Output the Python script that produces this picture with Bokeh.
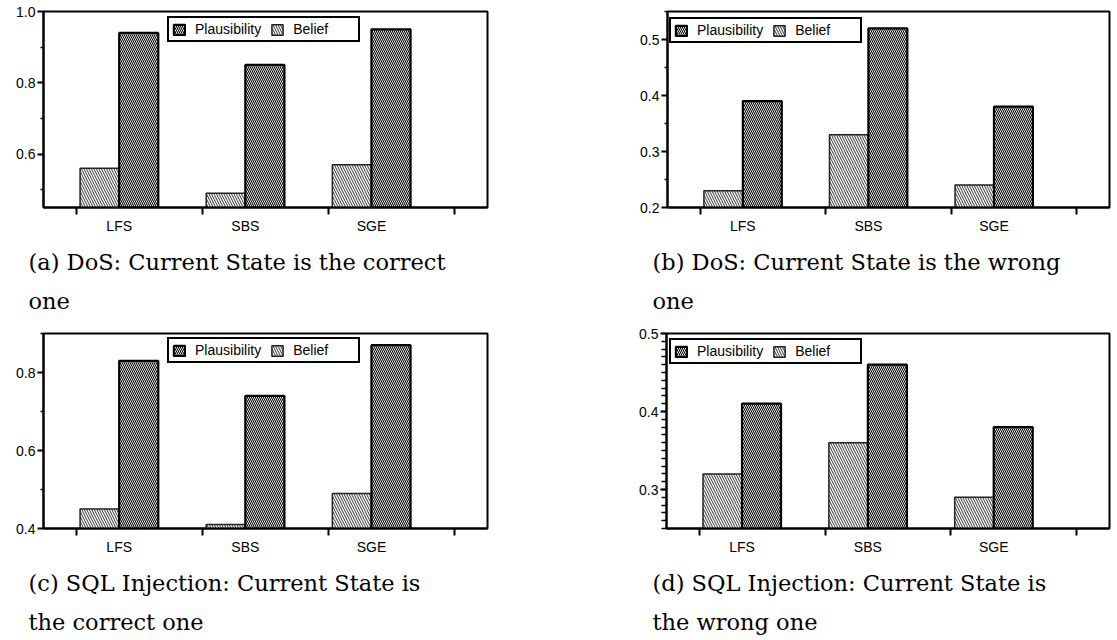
import numpy as np
from bokeh.plotting import figure
from bokeh.models import (FixedTicker, Title, Legend, LegendItem, Range1d,
                          PrintfTickFormatter, ColumnDataSource)
from bokeh.layouts import column, row
from bokeh.embed import file_html
from bokeh.resources import INLINE

# ---------------- data ----------------
categories = ["LFS", "SBS", "SGE"]

belief_a = [0.56, 0.49, 0.57]
plaus_a = [0.94, 0.85, 0.95]

belief_b = [0.23, 0.33, 0.24]
plaus_b = [0.39, 0.52, 0.38]

belief_c = [0.45, 0.41, 0.49]
plaus_c = [0.83, 0.74, 0.87]

belief_d = [0.32, 0.36, 0.29]
plaus_d = [0.41, 0.46, 0.38]

yrange_a = (0.45, 1.0)
yrange_b = (0.2, 0.55)
yrange_c = (0.4, 0.9)
yrange_d = (0.25, 0.5)

yticks_a = [0.6, 0.8, 1.0]
yminor_a = [0.5, 0.7, 0.9]
yticks_b = [0.2, 0.3, 0.4, 0.5]
yminor_b = [0.25, 0.35, 0.45, 0.55]
yticks_c = [0.4, 0.6, 0.8]
yminor_c = [0.5, 0.7, 0.9]
yticks_d = [0.3, 0.4, 0.5]
yminor_d = [round(0.25 + 0.01 * i, 2) for i in range(26)]

caption_a = ["(a) DoS: Current State is the correct", "one"]
caption_b = ["(b) DoS: Current State is the wrong", "one"]
caption_c = ["(c) SQL Injection: Current State is", "the correct one"]
caption_d = ["(d) SQL Injection: Current State is", "the wrong one"]

series_labels = ["Plausibility", "Belief"]

# ---------------- styling ----------------
SANS = "Liberation Sans"
SERIF = "DejaVu Serif"
BAR_W = 0.31
GROUP_BOUNDARY = -0.34


def make_panel(belief, plaus, yr, yt, ym, caption, width, height,
               bl, br, bt, bb, legend_xy, cap_offset, minor_len):
    p = figure(width=width, height=height, output_backend="svg",
               toolbar_location=None, title=None,
               x_range=Range1d(-0.6, 2.92), y_range=Range1d(*yr),
               min_border_left=bl, min_border_right=br,
               min_border_top=bt, min_border_bottom=bb)
    p.background_fill_color = "white"
    p.border_fill_color = "white"
    p.outline_line_color = "black"
    p.outline_line_width = 2
    p.outline_line_alpha = 1
    p.xgrid.visible = False
    p.ygrid.visible = False

    idx = np.arange(len(categories))
    src_b = ColumnDataSource(dict(x=idx - BAR_W / 2, top=belief))
    src_p = ColumnDataSource(dict(x=idx + BAR_W / 2, top=plaus))

    rb = p.vbar(x="x", top="top", bottom=yr[0], width=BAR_W, source=src_b,
                fill_color="white", line_color="#222222", line_width=1.5,
                hatch_pattern="\\", hatch_color="black", hatch_weight=0.8,
                hatch_scale=5)
    rp = p.vbar(x="x", top="top", bottom=yr[0], width=BAR_W, source=src_p,
                fill_color="black", line_color="black", line_width=2.2,
                hatch_pattern="\\", hatch_color="white", hatch_weight=0.9,
                hatch_scale=4)

    legend = Legend(items=[LegendItem(label=series_labels[0], renderers=[rp]),
                           LegendItem(label=series_labels[1], renderers=[rb])],
                    location=legend_xy, orientation="horizontal",
                    glyph_width=14, glyph_height=13, label_standoff=9,
                    spacing=9, padding=3, margin=0, label_width=62,
                    label_height=13,
                    label_text_font=SANS, label_text_font_size="14px",
                    label_text_color="black",
                    border_line_color="black", border_line_width=2,
                    border_line_alpha=1,
                    background_fill_color="white", background_fill_alpha=1)
    p.add_layout(legend)

    # x axis: labels at group centres, tick marks at group boundaries
    xa = p.xaxis[0]
    xa.ticker = FixedTicker(ticks=list(idx.astype(float)),
                            minor_ticks=[GROUP_BOUNDARY + i for i in range(4)])
    xa.major_label_overrides = {float(i): c for i, c in enumerate(categories)}
    xa.major_tick_line_color = None
    xa.major_tick_out = 0
    xa.major_tick_in = 0
    xa.minor_tick_out = 7
    xa.minor_tick_in = 0
    xa.minor_tick_line_width = 2
    xa.minor_tick_line_color = "black"
    xa.major_label_standoff = 3

    ya = p.yaxis[0]
    ya.ticker = FixedTicker(ticks=yt, minor_ticks=ym)
    ya.formatter = PrintfTickFormatter(format="%.1f")
    ya.major_tick_out = 6
    ya.major_tick_in = 0
    ya.major_tick_line_width = 2
    ya.minor_tick_out = minor_len
    ya.minor_tick_in = 0
    ya.minor_tick_line_width = 1.5
    ya.major_label_standoff = 2

    for ax in (xa, ya):
        ax.axis_line_width = 2
        ax.axis_line_color = "black"
        ax.major_label_text_font = SANS
        ax.major_label_text_font_size = "14px"
        ax.major_label_text_color = "black"

    t1 = Title(text=caption[0], align="left", offset=cap_offset,
               text_font=SERIF, text_font_size="22.5px",
               text_font_style="normal", text_color="black", standoff=21)
    t2 = Title(text=caption[1], align="left", offset=cap_offset,
               text_font=SERIF, text_font_size="22.5px",
               text_font_style="normal", text_color="black", standoff=0)
    p.add_layout(t1, "below")
    p.add_layout(t2, "below")
    return p


pa = make_panel(belief_a, plaus_a, yrange_a, yticks_a, yminor_a, caption_a,
                627, 320, 43, 140, 11, 113, (124, 165), -15, 3)
pb = make_panel(belief_b, plaus_b, yrange_b, yticks_b, yminor_b, caption_b,
                490, 320, 40, 8, 11, 113, (2, 164), -15, 3)
pc = make_panel(belief_c, plaus_c, yrange_c, yticks_c, yminor_c, caption_c,
                627, 320, 43, 140, 13, 112, (124, 165), -15, 3)
pd = make_panel(belief_d, plaus_d, yrange_d, yticks_d, yminor_d, caption_d,
                490, 320, 39, 8, 13, 112, (3, 164), -14, 5)

layout = column(row(pa, pb), row(pc, pd))

open("out.html", "w").write(file_html(layout, INLINE))
